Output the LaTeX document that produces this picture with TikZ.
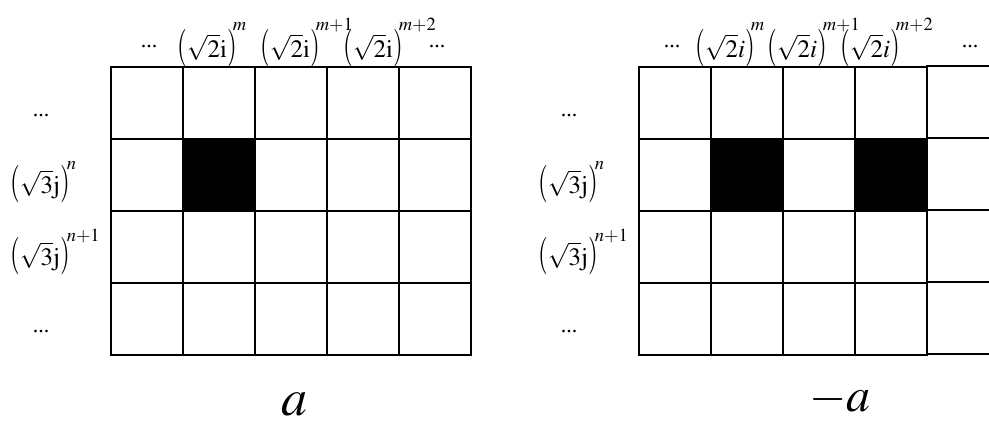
\documentclass[tikz,border=0pt]{standalone}
\usepackage{mathptmx}
\usepackage[no-math]{fontspec}
\setmainfont{Liberation Serif}
\newcommand\lp{\mathopen{\scalebox{1}[1.5]{$($}}}
\newcommand\rp{\mathclose{\scalebox{1}[1.5]{$)$}}}
\newcommand\hsup[1]{^{\kern-4pt\raisebox{6pt}{$\scriptstyle #1$}}}
\newcommand\vsup[1]{^{\kern-3pt\raisebox{3pt}{$\scriptstyle #1$}}}
\newcommand\tdots{{.}{.}{.}}
\begin{document}
\begin{tikzpicture}[x=1pt,y=-1pt,
  gridline/.style={line width=1.7pt, line cap=rect},
  lbl/.style={inner sep=0pt, anchor=base west, font=\fontsize{25}{30}\selectfont},
  dots/.style={inner sep=0pt, anchor=base, font=\fontsize{22}{26}\selectfont},
  big/.style={inner sep=0pt, anchor=base west}]
\useasboundingbox (0,0) rectangle (989,423);
% left grid
\fill (183,139) rectangle (255,211);
\foreach \x in {111,183,255,327,399,471} \draw[gridline] (\x,67) -- (\x,355);
\foreach \y in {67,139,211,283,355} \draw[gridline] (111,\y) -- (471,\y);
% right grid
\fill (711,139) rectangle (783,211);
\fill (855,139) rectangle (927,211);
\foreach \x in {639,711,783,855,927} \draw[gridline] (\x,67) -- (\x,355);
\foreach \y in {67,139,211,283,355} \draw[gridline] (639,\y) -- (927,\y);
\foreach \y in {66,138,210,282,354} \draw[gridline] (927,\y) -- (995,\y);
% left labels
\node[dots] (ld0) at (149,47.5) {\tdots};
\node[lbl] (lc1) at (177,57) {$\lp\sqrt{2}\mathrm{i}\rp\hsup{m}$};
\node[lbl] (lc2) at (260,57) {$\lp\sqrt{2}\mathrm{i}\rp\hsup{m+1}$};
\node[lbl] (lc3) at (343,57) {$\lp\sqrt{2}\mathrm{i}\rp\hsup{m+2}$};
\node[dots] (ld1) at (437,47.5) {\tdots};
\node[dots] (lr0) at (41,116.5) {\tdots};
\node[lbl] (lr1) at (10,193) {$\lp\sqrt{3}\mathrm{j}\rp\vsup{n}$};
\node[lbl] (lr2) at (10,265) {$\lp\sqrt{3}\mathrm{j}\rp\vsup{n+1}$};
\node[dots] (lr3) at (41,332.5) {\tdots};
% right labels
\node[dots] (rd0) at (672,47.5) {\tdots};
\node[lbl] (rc1) at (695,57) {$\lp\sqrt{2}i\rp\hsup{m}$};
\node[lbl] (rc2) at (767,57) {$\lp\sqrt{2}i\rp\hsup{m+1}$};
\node[lbl] (rc3) at (840,57) {$\lp\sqrt{2}i\rp\hsup{m+2}$};
\node[dots] (rd1) at (970,47.5) {\tdots};
\node[dots] (rr0) at (569,116.5) {\tdots};
\node[lbl] (rr1) at (538,193) {$\lp\sqrt{3}\mathrm{j}\rp\vsup{n}$};
\node[lbl] (rr2) at (538,265) {$\lp\sqrt{3}\mathrm{j}\rp\vsup{n+1}$};
\node[dots] (rr3) at (569,332.5) {\tdots};
% captions
\node[big, font=\fontsize{52}{56}\selectfont] (capa) at (281,415) {$a$};
\node[big, font=\fontsize{48}{52}\selectfont] (capma) at (809,411) {$-a$};
\end{tikzpicture}
\end{document}
